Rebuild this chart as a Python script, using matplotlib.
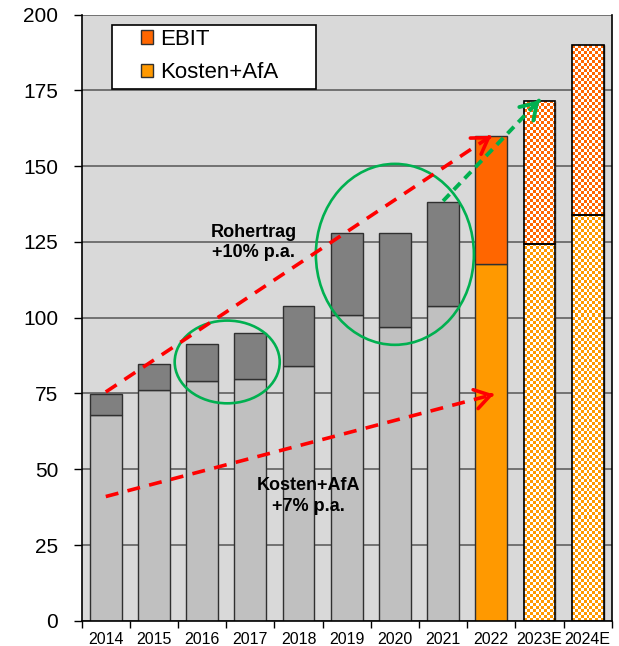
import numpy as np
import matplotlib
matplotlib.use("Agg")
import matplotlib.pyplot as plt
from matplotlib.patches import Patch, Ellipse, Rectangle

plt.rcParams['font.family'] = ['Liberation Sans', 'DejaVu Sans']

# Years and values (EUR m)
years = ['2014', '2015', '2016', '2017', '2018', '2019', '2020', '2021', '2022', '2023E', '2024E']
kosten_afa = [68, 76, 79, 79.7, 84.1, 100.8, 96.9, 103.8, 117.7, 124.4, 134]
rohertrag = [74.8, 84.6, 91.4, 94.9, 104, 127.9, 127.9, 138.3, 159.8, 171.6, 190]
ebit = [r - k for r, k in zip(rohertrag, kosten_afa)]

n_hist = 8          # grey bars 2014-2021
forecast = [9, 10]  # hatched forecast bars

GREY_LOW, GREY_TOP = '#C0C0C0', '#808080'
ORANGE, RED_ORANGE = '#FF9900', '#FF6600'
GREEN, RED = '#00B050', '#FF0000'

fig = plt.figure(figsize=(6.19, 6.46), dpi=100)
W, H = 619, 646
ax = fig.add_axes([81.7 / W, (H - 620.8) / H, 530 / W, (620.8 - 14.6) / H])
ax.set_facecolor('#D9D9D9')
ax.set_xlim(-0.5, 10.5)
ax.set_ylim(0, 200)

x = np.arange(len(years))
bw = 0.66
edge = '#303030'

low_colors = [GREY_LOW] * n_hist + [ORANGE] + ['white'] * 2
top_colors = [GREY_TOP] * n_hist + [RED_ORANGE] + ['white'] * 2
low_bars = ax.bar(x, kosten_afa, bw, color=low_colors, edgecolor=edge, linewidth=1.0, zorder=2)
top_bars = ax.bar(x, ebit, bw, bottom=kosten_afa, color=top_colors, edgecolor=edge,
                  linewidth=1.0, zorder=2)


def checker(patch, color, cell=3.0):
    """Fill a bar segment with a small orange/white checkerboard."""
    x0, y0 = patch.get_x(), patch.get_y()
    x1, y1 = x0 + patch.get_width(), y0 + patch.get_height()
    (px0, py0), (px1, py1) = ax.transData.transform([(x0, y0), (x1, y1)])
    nx = max(1, int(round((px1 - px0) / cell)))
    ny = max(1, int(round((py1 - py0) / cell)))
    ii, jj = np.meshgrid(np.arange(nx), np.arange(ny))
    rgb = np.array(matplotlib.colors.to_rgb(color))
    img = np.ones((ny, nx, 3))
    img[(ii + jj) % 2 == 0] = rgb
    im = ax.imshow(img, extent=(x0, x1, y0, y1), interpolation='nearest',
                   aspect='auto', zorder=2.1, origin='lower')
    im.set_clip_path(patch)
    ax.add_patch(Rectangle((x0, y0), x1 - x0, y1 - y0, fill=False,
                           edgecolor='black', linewidth=1.2, zorder=2.2))


for i in forecast:
    checker(low_bars[i], ORANGE)
    checker(top_bars[i], RED_ORANGE)

ax.set_xlim(-0.5, 10.5)
ax.set_ylim(0, 200)

# Grid and axes
ax.set_yticks(np.arange(0, 201, 25))
ax.yaxis.grid(True, color='#6A6A6A', linewidth=1.3)
ax.set_axisbelow(True)
ax.tick_params(axis='y', direction='out', length=6, width=1, labelsize=15, pad=11)
ax.set_xticks(x)
ax.set_xticklabels(years)
ax.tick_params(axis='x', which='major', length=0, labelsize=11.5, pad=8)
ax.set_xticks(np.arange(-0.5, 11, 1), minor=True)
ax.tick_params(axis='x', which='minor', direction='out', length=5, width=1)
for s in ['left', 'bottom', 'right']:
    ax.spines[s].set_color('black')
    ax.spines[s].set_linewidth(1.2)
ax.spines['top'].set_visible(False)


def dashed_arrow(p0, p1, color, lw, dashes):
    ax.plot([p0[0], p1[0]], [p0[1], p1[1]], color=color, lw=lw,
            linestyle=(0, dashes), solid_capstyle='butt', dash_capstyle='butt', zorder=5)
    t = 0.995
    tail = (p0[0] + t * (p1[0] - p0[0]), p0[1] + t * (p1[1] - p0[1]))
    ax.annotate('', xy=p1, xytext=tail,
                arrowprops=dict(arrowstyle='->,head_length=1.1,head_width=0.7',
                                color=color, lw=lw, mutation_scale=10,
                                shrinkA=0, shrinkB=0), zorder=6)


# Growth trend arrows
dashed_arrow((0, 75.5), (8, 160), RED, 2.6, (3.6, 2.6))
dashed_arrow((0, 41), (8.05, 74.7), RED, 2.6, (3.6, 2.6))
dashed_arrow((7, 138.5), (9, 171.8), GREEN, 2.8, (2.4, 1.6))

# Highlight rings
ax.add_patch(Ellipse((2.52, 85.4), 2.18, 27.3, fill=False, edgecolor=GREEN, lw=1.9, zorder=4))
ax.add_patch(Ellipse((6.0, 120.9), 3.28, 59.7, fill=False, edgecolor=GREEN, lw=1.9, zorder=4))

# Labels
ax.text(3.07, 124.7, 'Rohertrag\n+10% p.a.', ha='center', va='center', fontsize=13,
        fontweight='bold', linespacing=1.25, zorder=7)
ax.text(4.2, 41.2, 'Kosten+AfA\n+7% p.a.', ha='center', va='center', fontsize=13,
        fontweight='bold', linespacing=1.25, zorder=7)

# Legend box with the two coloured series
bx0, by1 = (111.7 - 81.7) / 530, (620.8 - 25) / 606.2
bx1, by0 = (316 - 81.7) / 530, (620.8 - 89) / 606.2
ax.add_patch(Rectangle((bx0, by0), bx1 - bx0, by1 - by0, transform=ax.transAxes,
                       facecolor='white', edgecolor='black', lw=1.2, zorder=8))
handles = [Patch(facecolor=RED_ORANGE, edgecolor=edge, label='EBIT'),
           Patch(facecolor=ORANGE, edgecolor=edge, label='Kosten+AfA')]
leg = ax.legend(handles=handles, loc='upper left',
                bbox_to_anchor=((141 - 81.7) / 530, (620.8 - 29) / 606.2),
                frameon=False, fontsize=16, handlelength=0.55, handleheight=0.55,
                handletextpad=0.3, borderpad=0, borderaxespad=0, labelspacing=0.55)
leg.set_zorder(9)

fig.savefig('out.png', dpi=100)
